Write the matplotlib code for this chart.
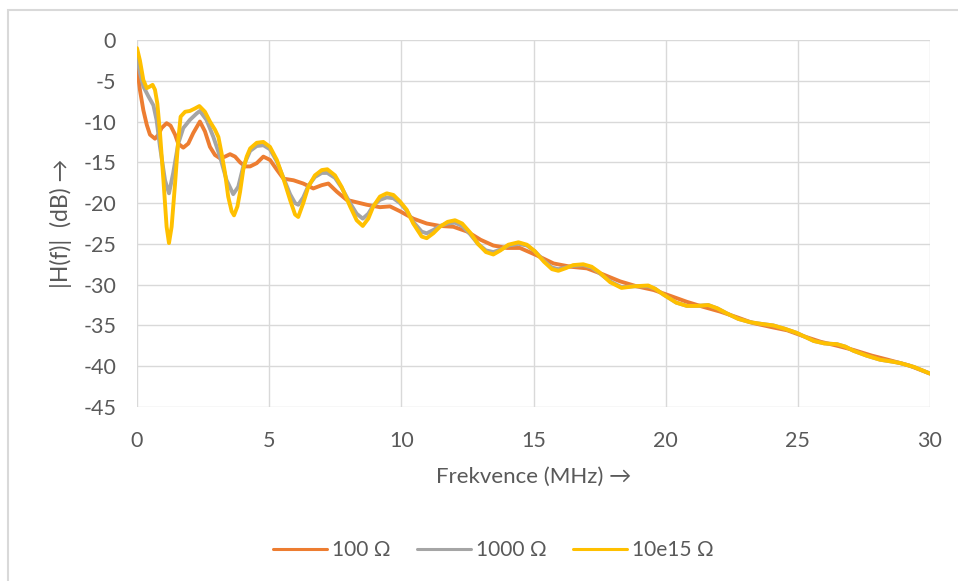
import matplotlib
matplotlib.use("Agg")
import matplotlib.pyplot as plt
from matplotlib.patches import Rectangle

plt.rcParams['font.family'] = ['Lato', 'DejaVu Sans']

# ---- data ----
x_100 = [0, 0.11, 0.24, 0.37, 0.49, 0.68, 0.81, 0.93, 1.12, 1.27, 1.44, 1.56, 1.75,
         1.94, 2.13, 2.38, 2.57, 2.76, 2.95, 3.14, 3.33, 3.52, 3.71, 3.9, 4.09, 4.28,
         4.53, 4.78, 5.03, 5.29, 5.54, 5.92, 6.29, 6.67, 6.99, 7.24, 7.56, 7.93, 8.31,
         8.69, 9.19, 9.57, 9.95, 10.45, 10.96, 11.46, 11.97, 12.5, 13.0, 13.48, 14.0,
         14.49, 15.12, 15.76, 16.4, 17.02, 17.6, 18.28, 18.9, 19.54, 20.2, 20.8, 21.4,
         22.06, 22.7, 23.3, 24.0, 24.6, 25.2, 25.86, 26.5, 27.1, 27.8, 28.4, 29.2, 30]
y_100 = [-3.1, -6.1, -8.6, -10.4, -11.6, -12.1, -11.6, -10.8, -10.2, -10.5, -11.6,
         -12.7, -13.2, -12.7, -11.4, -10.0, -11.2, -13.1, -14.1, -14.5, -14.3, -14.0,
         -14.3, -15.0, -15.5, -15.5, -15.1, -14.3, -14.7, -15.9, -17.0, -17.2, -17.6,
         -18.2, -17.8, -17.6, -18.6, -19.6, -19.9, -20.2, -20.5, -20.4, -21.0, -21.9,
         -22.5, -22.8, -22.9, -23.5, -24.5, -25.2, -25.5, -25.5, -26.4, -27.4, -27.8,
         -28.0, -28.7, -29.6, -30.2, -30.65, -31.4, -32.1, -32.7, -33.3, -34.0, -34.7,
         -35.2, -35.6, -36.3, -37.0, -37.5, -38.0, -38.7, -39.2, -39.9, -40.9]

x_1000 = [0, 0.11, 0.24, 0.43, 0.62, 0.74, 0.87, 1.06, 1.21, 1.37, 1.56, 1.75, 2.0,
          2.26, 2.38, 2.63, 2.89, 3.14, 3.39, 3.64, 3.83, 4.02, 4.28, 4.53, 4.78, 5.03,
          5.29, 5.54, 5.79, 5.98, 6.1, 6.29, 6.48, 6.73, 6.99, 7.2, 7.49, 7.74, 8.06,
          8.31, 8.54, 8.75, 8.94, 9.19, 9.45, 9.7, 9.95, 10.2, 10.45, 10.77, 10.96,
          11.21, 11.46, 11.75, 12.03, 12.3, 12.6, 12.9, 13.2, 13.48, 13.75, 14.05,
          14.43, 14.75, 15.05, 15.4, 15.7, 15.94, 16.2, 16.5, 16.88, 17.2, 17.5, 17.9,
          18.33, 18.8, 19.34, 19.6, 19.91, 20.4, 20.8, 21.2, 21.61, 21.95, 22.3, 22.75,
          23.19, 23.6, 24.07, 24.5, 24.95, 25.6, 26.0, 26.48, 26.8, 27.1, 27.6, 28.11,
          28.5, 28.86, 29.4, 30]
y_1000 = [-2.0, -4.0, -5.7, -6.9, -8.0, -9.8, -13.1, -17.2, -18.8, -16.3, -12.7, -10.8,
          -9.8, -9.0, -8.7, -9.8, -11.9, -14.3, -17.2, -18.9, -18.0, -15.5, -13.6,
          -13.0, -12.9, -13.4, -14.9, -16.9, -18.9, -20.0, -20.2, -19.3, -17.9, -16.8,
          -16.3, -16.3, -16.9, -18.1, -20.0, -21.3, -21.9, -21.3, -20.3, -19.6, -19.3,
          -19.4, -20.0, -20.9, -22.3, -23.5, -23.7, -23.3, -22.8, -22.5, -22.4, -22.8,
          -23.8, -25.0, -25.8, -26.0, -25.7, -25.2, -25.0, -25.2, -25.9, -27.1, -27.9,
          -28.1, -27.9, -27.7, -27.6, -27.9, -28.6, -29.6, -30.3, -30.2, -30.2, -30.5,
          -31.2, -32.2, -32.6, -32.6, -32.5, -32.9, -33.5, -34.2, -34.6, -34.8, -35.0,
          -35.4, -35.9, -36.9, -37.2, -37.3, -37.6, -38.1, -38.7, -39.2, -39.4, -39.6,
          -40.1, -40.9]

x_inf = [0, 0.11, 0.24, 0.37, 0.49, 0.59, 0.68, 0.77, 0.87, 1.0, 1.12, 1.21, 1.31,
         1.44, 1.56, 1.65, 1.82, 2.0, 2.19, 2.36, 2.57, 2.76, 2.95, 3.08, 3.2, 3.33,
         3.45, 3.58, 3.67, 3.8, 3.9, 4.02, 4.15, 4.28, 4.53, 4.78, 5.03, 5.29, 5.54,
         5.79, 5.98, 6.1, 6.29, 6.48, 6.73, 6.99, 7.2, 7.49, 7.74, 8.06, 8.31, 8.54,
         8.75, 8.94, 9.19, 9.45, 9.7, 9.95, 10.2, 10.45, 10.77, 10.96, 11.21, 11.46,
         11.75, 12.03, 12.3, 12.6, 12.9, 13.2, 13.48, 13.75, 14.05, 14.43, 14.75,
         15.05, 15.4, 15.7, 15.94, 16.2, 16.5, 16.88, 17.2, 17.5, 17.9, 18.33, 18.8,
         19.34, 19.6, 19.91, 20.4, 20.8, 21.2, 21.61, 21.95, 22.3, 22.75, 23.19, 23.6,
         24.07, 24.5, 24.95, 25.6, 26.0, 26.48, 26.8, 27.1, 27.6, 28.11, 28.5, 28.86,
         29.4, 30]
y_inf = [-1.0, -2.5, -4.9, -5.9, -5.7, -5.5, -6.1, -7.8, -11.4, -17.2, -22.9, -24.9,
         -22.9, -17.6, -12.3, -9.4, -8.8, -8.7, -8.4, -8.1, -8.8, -10.0, -11.0, -11.9,
         -13.9, -16.3, -19.2, -21.0, -21.5, -20.4, -18.6, -15.9, -14.3, -13.3, -12.6,
         -12.5, -13.1, -14.7, -17.0, -19.6, -21.4, -21.7, -20.0, -18.0, -16.6, -15.95,
         -15.85, -16.6, -18.0, -20.4, -22.1, -22.8, -21.9, -20.4, -19.2, -18.8, -19.0,
         -19.8, -20.8, -22.5, -24.1, -24.3, -23.7, -22.9, -22.3, -22.1, -22.5, -23.6,
         -25.0, -26.0, -26.3, -25.8, -25.1, -24.8, -25.1, -25.9, -27.2, -28.1, -28.3,
         -28.0, -27.6, -27.5, -27.8, -28.5, -29.7, -30.4, -30.2, -30.1, -30.5, -31.2,
         -32.2, -32.6, -32.6, -32.5, -32.9, -33.5, -34.2, -34.6, -34.8, -35.0, -35.4,
         -35.9, -36.9, -37.2, -37.3, -37.6, -38.1, -38.7, -39.2, -39.4, -39.6, -40.1,
         -40.9]

series_labels = ['100 Ω', '1000 Ω', '10e15 Ω']
series_colors = ['#ED7D31', '#A5A5A5', '#FFC000']
x_ticks = [0, 5, 10, 15, 20, 25, 30]
y_ticks = [0, -5, -10, -15, -20, -25, -30, -35, -40, -45]

# ---- figure ----
W, H = 958, 581
fig = plt.figure(figsize=(W / 100, H / 100), dpi=100)
fig.patch.set_facecolor('white')

# outer chart border (only top and left are visible in the reference)
fig.patches.append(Rectangle((8 / W, -0.1), 1.2, (H - 10) / H + 0.1,
                             transform=fig.transFigure, fill=False,
                             edgecolor='#D9D9D9', linewidth=1.5))

ax = fig.add_axes([137 / W, (H - 407) / H, (930 - 137) / W, (407 - 40) / H])

for xs, ys, lab, col in zip([x_100, x_1000, x_inf], [y_100, y_1000, y_inf],
                            series_labels, series_colors):
    ax.plot(xs, ys, color=col, linewidth=2.8, label=lab,
            solid_joinstyle='round', solid_capstyle='round', zorder=3)

ax.set_xlim(0, 30)
ax.set_ylim(-45, 0)
ax.set_xticks(x_ticks)
ax.set_yticks(y_ticks)
ax.set_xticklabels([str(v) for v in x_ticks])
ax.set_yticklabels([str(v) for v in y_ticks])
ax.grid(True, color='#D9D9D9', linewidth=1.0, zorder=0)
ax.set_axisbelow(True)
for s in ax.spines.values():
    s.set_visible(False)
ax.tick_params(length=0, labelsize=15.5, labelcolor='#595959')
ax.tick_params(axis='y', pad=15)
ax.tick_params(axis='x', pad=17)

ax.set_xlabel('Frekvence (MHz) →', fontsize=16, color='#595959', labelpad=12)
ax.set_ylabel('|H(f)|  (dB) →', fontsize=16.5, color='#595959', labelpad=8)

handles, labels = ax.get_legend_handles_labels()
leg = fig.legend(handles, labels, loc='center', bbox_to_anchor=(0.515, 1 - 550 / H),
                 ncol=3, frameon=False, fontsize=15, labelcolor='#595959',
                 handlelength=2.6, handletextpad=0.25, columnspacing=1.25)
for ln in leg.get_lines():
    ln.set_linewidth(2.2)

fig.savefig('out.png', dpi=100, facecolor='white')
